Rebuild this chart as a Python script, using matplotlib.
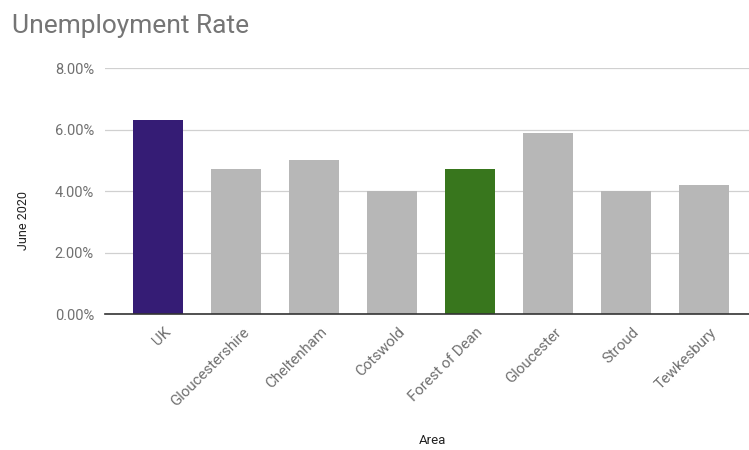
import numpy as np
import matplotlib.pyplot as plt
import matplotlib.transforms as mtransforms
from matplotlib import ticker

areas = ["UK", "Gloucestershire", "Cheltenham", "Cotswold", "Forest of Dean",
         "Gloucester", "Stroud", "Tewkesbury"]
rates = [6.3, 4.7, 5.0, 4.0, 4.7, 5.9, 4.0, 4.2]
bar_colors = ["#351c75", "#b7b7b7", "#b7b7b7", "#b7b7b7", "#38761d",
              "#b7b7b7", "#b7b7b7", "#b7b7b7"]

plt.rcParams['font.family'] = ['Roboto', 'DejaVu Sans']

fig = plt.figure(figsize=(7.49, 4.5), dpi=100)
ax = fig.add_axes([105 / 749, 1 - 314 / 450, 1 - 105 / 749, (314 - 68) / 450])

x = np.arange(len(areas))
ax.bar(x, rates, width=0.64, color=bar_colors, zorder=3)

ax.set_ylim(0, 8)
ax.set_xlim(-0.68, 7.58)
ax.yaxis.set_major_locator(ticker.MultipleLocator(2))
ax.yaxis.set_major_formatter(ticker.FuncFormatter(lambda v, p: f"{v:.2f}%"))
ax.grid(axis="y", color="#d0d0d0", linewidth=0.9, zorder=0)

for s in ["top", "right", "left"]:
    ax.spines[s].set_visible(False)
ax.spines["bottom"].set_color("#333333")
ax.spines["bottom"].set_linewidth(1.2)
ax.spines["bottom"].set_zorder(4)

ax.tick_params(axis="y", length=0, pad=8, labelsize=10.5, labelcolor="#707070")
ax.tick_params(axis="x", length=0, pad=8, labelsize=10.8, labelcolor="#707070")
ax.set_xticks(x)
ax.set_xticklabels(areas, rotation=45, ha="right", rotation_mode="anchor")
# shift the rotated labels a little to the right, as in the original
offset = mtransforms.ScaledTranslation(6 / 100, 0, fig.dpi_scale_trans)
for lbl in ax.get_xticklabels():
    lbl.set_transform(lbl.get_transform() + offset)

ax.set_ylabel("June 2020", fontsize=9, color="#222222")
ax.yaxis.set_label_coords(-0.116, 0.38)
ax.set_xlabel("Area", fontsize=9.5, color="#222222")
ax.xaxis.set_label_coords((432 - 105) / (749 - 105), -(440 - 314) / 246)
ax.xaxis.label.set_va("center")

fig.text(12 / 749, 1 - 26 / 450, "Unemployment Rate", fontsize=19,
         color="#757575", va="center", ha="left")

fig.savefig("out.png", dpi=100)
